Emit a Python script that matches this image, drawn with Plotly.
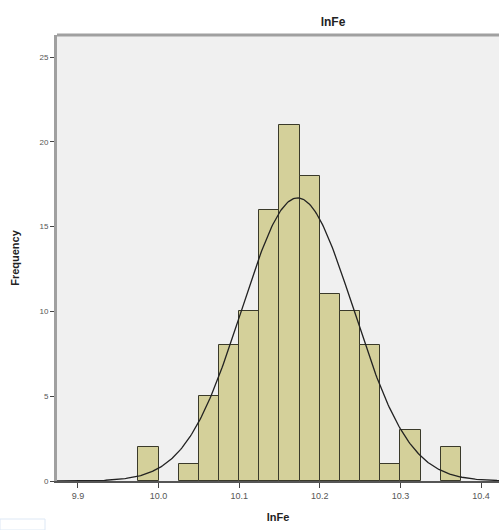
import numpy as np
import plotly.graph_objects as go

# Histogram bins (left edges) and frequencies
bin_left = [9.975, 10.0, 10.025, 10.05, 10.075, 10.1, 10.125, 10.15, 10.175,
            10.2, 10.225, 10.25, 10.275, 10.3, 10.325, 10.35]
freq = [2, 0, 1, 5, 8, 10, 16, 21, 18, 11, 10, 8, 1, 3, 0, 2]
bin_width = 0.025

# Fitted normal curve parameters
mean_val = 10.1725
sd_val = 0.0693
n_total = sum(freq)

x_ticks = [9.9, 10.0, 10.1, 10.2, 10.3, 10.4]
x_tick_text = ["9.9", "10.0", "10.1", "10.2", "10.3", "10.4"]
y_ticks = [0, 5, 10, 15, 20, 25]

bx = [b + bin_width / 2 for b, f in zip(bin_left, freq) if f > 0]
by = [f for f in freq if f > 0]

xc = np.linspace(9.85, 10.45, 400)
yc = n_total * bin_width / (sd_val * np.sqrt(2 * np.pi)) * np.exp(-0.5 * ((xc - mean_val) / sd_val) ** 2)

W, H = 499, 530
fig = go.Figure()
fig.add_trace(go.Bar(x=bx, y=by, width=bin_width,
                     marker=dict(color="#d4d09a", line=dict(color="#3a3a2a", width=1)),
                     hoverinfo="x+y"))
fig.add_trace(go.Scatter(x=xc, y=yc, mode="lines",
                         line=dict(color="#222222", width=1.3), hoverinfo="skip"))

fig.update_layout(
    width=W, height=H,
    margin=dict(l=57, r=0, t=35, b=49),
    paper_bgcolor="white", plot_bgcolor="#f0f0f0",
    showlegend=False, bargap=0,
    font=dict(family="Liberation Sans, Arial, sans-serif", color="#333"),
    title=dict(text="<b>lnFe</b>", x=333 / W, xanchor="center", y=1 - 22 / H, yanchor="middle",
               font=dict(size=12, color="#222")),
    xaxis=dict(range=[9.874, 10.4223], tickvals=x_ticks, ticktext=x_tick_text, automargin=False,
               showgrid=False, zeroline=False, showline=True, linecolor="#555", linewidth=1.5,
               ticks="outside", ticklen=5, tickcolor="#444", tickwidth=1,
               tickfont=dict(size=9, color="#555"),
               title=dict(text="<b>lnFe</b>", font=dict(size=11, color="#222"), standoff=14)),
    yaxis=dict(range=[0, 26.3], tickvals=y_ticks, automargin=False,
               showgrid=False, zeroline=False, showline=True, linecolor="#a0a0a0", linewidth=3,
               ticks="outside", ticklen=4, tickcolor="#444", tickwidth=1,
               tickfont=dict(size=8, color="#555"),
               title=dict(text="<b>Frequency</b>", font=dict(size=11, color="#222"), standoff=18)),
    shapes=[
        dict(type="line", xref="paper", yref="paper", x0=0, x1=1, y0=1, y1=1,
             line=dict(color="#a0a0a0", width=3)),
        dict(type="rect", xref="paper", yref="paper", x0=-57 / 442, x1=-12 / 442,
             y0=-49 / 446, y1=-38 / 446, line=dict(color="#dde8f5", width=1), fillcolor="white"),
    ],
)

fig.write_html(
    "out.html",
    config={"displayModeBar": False},
    post_script="document.body.style.margin='0';document.body.style.overflow='hidden';",
)
